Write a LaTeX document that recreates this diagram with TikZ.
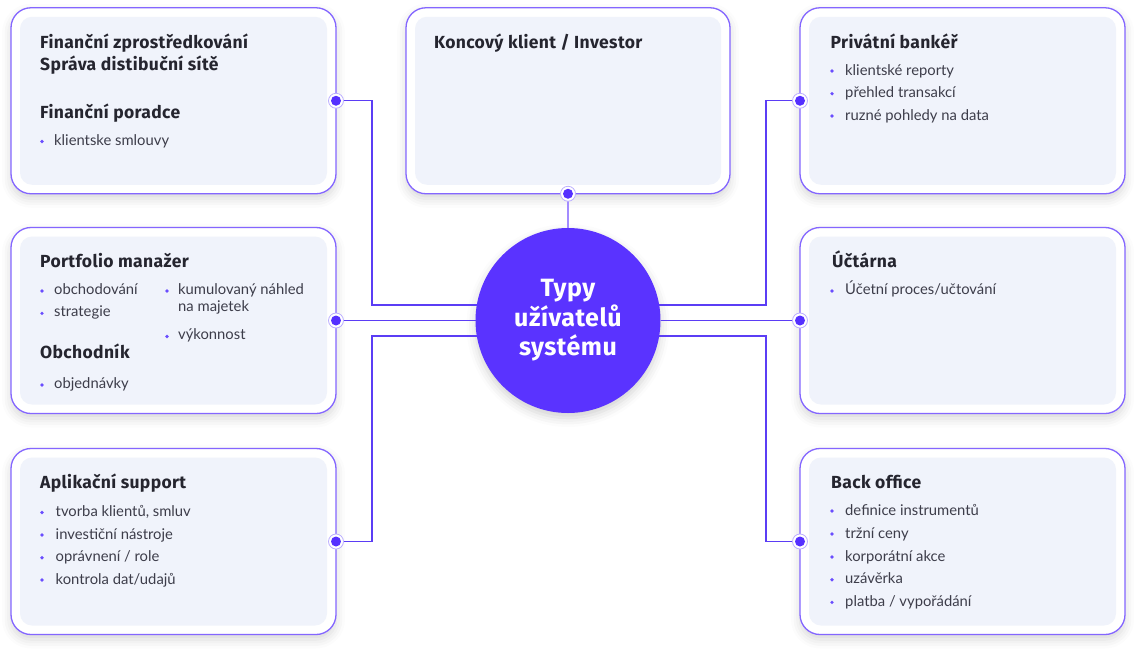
\documentclass[tikz,border=0pt]{standalone}
\usepackage{fontspec}
\setmainfont{Lato}
\newfontfamily\headfont{Fira Sans}[LetterSpace=2]
\usetikzlibrary{shadows.blur}
\definecolor{boxline}{HTML}{8466FF}
\definecolor{conn}{HTML}{5B3DF5}
\definecolor{connlight}{HTML}{A38CFF}
\definecolor{hubcol}{HTML}{5A33FF}
\definecolor{dotcol}{HTML}{5530FF}
\definecolor{ringcol}{HTML}{BBAEFF}
\definecolor{innerfill}{HTML}{F0F3FB}
\definecolor{headcol}{HTML}{25252F}
\definecolor{bodycol}{HTML}{3D3D4A}
\definecolor{bulcol}{HTML}{6A4DFF}
\newcommand\bulletdot[2]{\fill[bulcol] (#1,#2) circle (1.8pt);}
\newcommand\portdot[1]{\filldraw[draw=ringcol, line width=0.8pt, fill=white] (#1) circle (7.5pt); \fill[dotcol] (#1) circle (5pt);}
\begin{document}
\begin{tikzpicture}[x=1pt,y=-1pt,
  outerbox/.style={draw=boxline, line width=1.3pt, fill=white, rounded corners=20pt,
    minimum width=325pt, minimum height=186pt, inner sep=0pt, outer sep=0pt,
    blur shadow={shadow xshift=0pt, shadow yshift=-5pt, shadow blur radius=9pt, shadow opacity=16}},
  innerbox/.style={fill=innerfill, rounded corners=12pt, minimum width=307pt, minimum height=168pt, inner sep=0pt},
  head/.style={font=\headfont\fontsize{17.5}{18}\selectfont\bfseries, text=headcol, anchor=base west, inner sep=0pt},
  body/.style={font=\fontsize{14.8}{16}\selectfont, text=bodycol, anchor=base west, inner sep=0pt},
  connector/.style={draw=conn, line width=1.2pt},
  hubstyle/.style={circle, fill=hubcol, minimum size=185pt, inner sep=0pt, outer sep=0pt,
    text=white, align=center, font=\headfont\fontsize{25}{29.5}\selectfont\bfseries,
    blur shadow={shadow xshift=0pt, shadow yshift=-5pt, shadow blur radius=9pt, shadow opacity=18}}
]
\useasboundingbox (0,0) rectangle (1136,649);

% boxes
\node[outerbox] (L1) at (173.5,100.75) {};
\node[innerbox] (L1i) at (L1.center) {};
\node[outerbox] (L2) at (173.5,320.5) {};
\node[innerbox] (L2i) at (L2.center) {};
\node[outerbox] (L3) at (173.5,541.5) {};
\node[innerbox] (L3i) at (L3.center) {};
\node[outerbox, minimum width=324pt] (T) at (568,100.75) {};
\node[innerbox, minimum width=306pt] (Ti) at (T.center) {};
\node[outerbox] (R1) at (962.5,100.75) {};
\node[innerbox] (R1i) at (R1.center) {};
\node[outerbox] (R2) at (962.5,320.5) {};
\node[innerbox] (R2i) at (R2.center) {};
\node[outerbox] (R3) at (962.5,541.5) {};
\node[innerbox] (R3i) at (R3.center) {};

% hub
\node[hubstyle] (hub) at (568,320.5) {Typy\\užívatelů\\systému};

% junction coordinates
\coordinate (jL1) at (372,305);
\coordinate (jL3) at (372,336);
\coordinate (jR1) at (766,305);
\coordinate (jR3) at (766,336);

% connectors
\draw[connector] (L1.east) -| (jL1) -- (jL1 -| hub.170.35);
\draw[connector] (L2.east) -- (hub.west);
\draw[connector] (L3.east) -| (jL3) -- (jL3 -| hub.189.65);
\draw[connector] (R1.west) -| (jR1) -- (jR1 -| hub.9.65);
\draw[connector] (R2.west) -- (hub.east);
\draw[connector] (R3.west) -| (jR3) -- (jR3 -| hub.-9.65);
\draw[connector, draw=connlight] (T.south) -- (hub.north);

% port dots
\portdot{L1.east}
\portdot{L2.east}
\portdot{L3.east}
\portdot{R1.west}
\portdot{R2.west}
\portdot{R3.west}
\portdot{T.south}

% texts: L1
\node[head] (l1h1) at (40,48.3) {Finanční zprostředkování};
\node[head] (l1h2) at (40,70.3) {Správa distibuční sítě};
\node[head] (l1h3) at (40,118.3) {Finanční poradce};
\bulletdot{42}{141.5}
\node[body] (l1b1) at (54,145) {klientske smlouvy};

% L2
\node[head] (l2h1) at (40,267.7) {Portfolio manažer};
\bulletdot{42}{291}
\node[body] (l2b1) at (54,294.5) {obchodování};
\bulletdot{42}{313.3}
\node[body] (l2b2) at (54,316.8) {strategie};
\node[head] (l2h2) at (40,358) {Obchodník};
\bulletdot{42}{385}
\node[body] (l2b3) at (54,388.5) {objednávky};
\bulletdot{167}{291}
\node[body] (l2b4) at (178,294.5) {kumulovaný náhled};
\node[body] (l2b5) at (178,311) {na majetek};
\bulletdot{167}{336.5}
\node[body] (l2b6) at (178,339.5) {výkonnost};

% L3
\node[head] (l3h1) at (40,488.3) {Aplikační support};
\bulletdot{42}{512.5}
\node[body] (l3b1) at (55.5,516.5) {tvorba klientů, smluv};
\bulletdot{42}{535}
\node[body] (l3b2) at (55.5,539) {investiční nástroje};
\bulletdot{42}{557.7}
\node[body] (l3b3) at (55.5,561.7) {oprávnení / role};
\bulletdot{42}{580}
\node[body] (l3b4) at (55.5,584) {kontrola dat/udajů};

% T
\node[head] (th1) at (434,48.3) {Koncový klient / Investor};

% R1
\node[head] (r1h1) at (830.5,48.3) {Privátní bankéř};
\bulletdot{832}{71}
\node[body] (r1b1) at (845,75) {klientské reporty};
\bulletdot{832}{93.7}
\node[body] (r1b2) at (845,97.5) {přehled transakcí};
\bulletdot{832}{116}
\node[body] (r1b3) at (845,120) {ruzné pohledy na data};

% R2
\node[head] (r2h1) at (832,267.3) {Účtárna};
\bulletdot{832}{291}
\node[body] (r2b1) at (845,294.5) {Účetní proces/učtování};

% R3
\node[head] (r3h1) at (831,488.3) {Back office};
\bulletdot{832}{511}
\node[body] (r3b1) at (845,515) {definice instrumentů};
\bulletdot{832}{534}
\node[body] (r3b2) at (845,538) {tržní ceny};
\bulletdot{832}{557}
\node[body] (r3b3) at (845,561) {korporátní akce};
\bulletdot{832}{579.7}
\node[body] (r3b4) at (845,583.5) {uzávěrka};
\bulletdot{832}{602.3}
\node[body] (r3b5) at (845,606) {platba / vypořádání};
\end{tikzpicture}
\end{document}
